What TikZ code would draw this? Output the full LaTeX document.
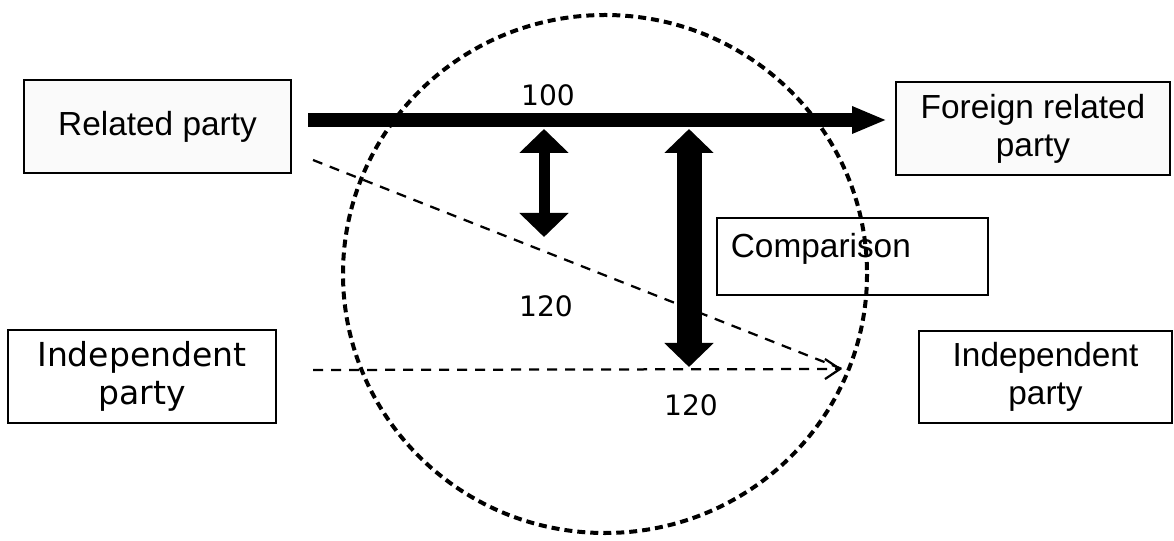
\documentclass[tikz,border=0pt]{standalone}
\usepackage{fontspec}
\setmainfont{Liberation Sans}
\newfontfamily\verd{DejaVu Sans}
\usetikzlibrary{arrows.meta}

\begin{document}
\begin{tikzpicture}[x=0.2mm, y=-0.2mm,
        box/.style={draw, line width=1pt, align=center, inner sep=0pt,
            font=\fontsize{19}{21.5}\selectfont},
        dotbox/.style={box, fill=black!2},
        vbox/.style={box, font=\verd\fontsize{18.8}{21.5}\selectfont},
        num/.style={font=\verd\fontsize{16}{19}\selectfont},
        flow/.style={line width=2.8mm, -{Triangle[length=7mm,width=5mm]}},
        gap/.style={{Triangle[length=4.8mm,width=9.6mm]}-{Triangle[length=4.8mm,width=9.6mm]}},
        trade/.style={line width=0.45mm, dash pattern=on 2mm off 1.6mm}]
    \useasboundingbox (0,0) rectangle (1174,541);
    % arm's length range
    \draw[line width=0.8mm, dash pattern=on 1.6mm off 1mm] (605,274) ellipse [x radius=262, y radius=259];
    % parties
    \node[dotbox, minimum width=53.4mm, minimum height=18.6mm] (rp) at (157.5,126.5) {Related party};
    \node[dotbox, minimum width=54.8mm, minimum height=18.6mm] (frp) at (1033,128.5) {Foreign related\\party};
    \node[vbox, minimum width=53.6mm, minimum height=18.6mm] (ip1) at (142,376.5) {Independent\\party};
    \node[box, minimum width=50.6mm, minimum height=18.4mm] (ip2) at (1045.5,377) {Independent\\party};
    \node[box, anchor=north west, align=left, inner xsep=2.8mm, inner ysep=0.8mm,
          text width=48.6mm, text height=7.2mm, text depth=6.6mm] (cmp) at (716,217) {Comparison};
    % prices
    \coordinate (p1) at (308,120);
    \coordinate (p2) at (887,120);
    \coordinate (d1) at (313,160);
    \coordinate (d2) at (313,370);
    \coordinate (dt) at (842,369);
    \draw[flow] (p1) -- (p2);
    \draw[trade] (d1) -- (dt);
    \draw[trade, -{Straight Barb[length=3mm,width=4mm]}] (d2) -- (dt);
    \coordinate (a1) at (544,129);
    \coordinate (b1) at (544,237);
    \coordinate (a2) at (689,129);
    \coordinate (b2) at (689,367);
    \draw[gap, line width=2.2mm] (a1) -- (b1);
    \draw[gap, line width=5mm] (a2) -- (b2);
    \node[num] (n100) at (548,95) {100};
    \node[num] (n120a) at (546,306) {120};
    \node[num] (n120b) at (691,405) {120};
\end{tikzpicture}
\end{document}
